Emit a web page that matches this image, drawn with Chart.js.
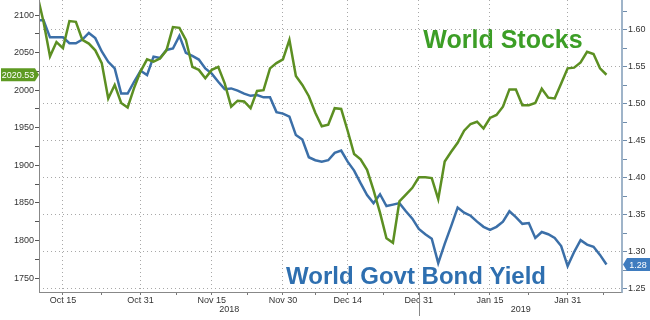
<!DOCTYPE html>
<html>
<head>
<meta charset="utf-8">
<script src="https://cdn.jsdelivr.net/npm/chart.js@4.4.0/dist/chart.umd.min.js"></script>
<style>
  html, body { margin: 0; padding: 0; background: #fff; }
</style>
</head>
<body>
<canvas id="myChart" width="650" height="320"></canvas>
<script>
// trading days shown on the chart
const dates = [
  "Oct 9","Oct 10","Oct 11","Oct 12","Oct 15","Oct 16","Oct 17","Oct 18","Oct 19","Oct 22","Oct 23","Oct 24","Oct 25","Oct 26","Oct 29","Oct 30","Oct 31",
  "Nov 1","Nov 2","Nov 5","Nov 6","Nov 7","Nov 8","Nov 9","Nov 12","Nov 13","Nov 14","Nov 15","Nov 16","Nov 19","Nov 20","Nov 21","Nov 22","Nov 23","Nov 26","Nov 27","Nov 28","Nov 29","Nov 30",
  "Dec 3","Dec 4","Dec 5","Dec 6","Dec 7","Dec 10","Dec 11","Dec 12","Dec 13","Dec 14","Dec 17","Dec 18","Dec 19","Dec 20","Dec 21","Dec 24","Dec 25","Dec 26","Dec 27","Dec 28","Dec 31",
  "Jan 1","Jan 2","Jan 3","Jan 4","Jan 7","Jan 8","Jan 9","Jan 10","Jan 11","Jan 14","Jan 15","Jan 16","Jan 17","Jan 18","Jan 21","Jan 22","Jan 23","Jan 24","Jan 25","Jan 28","Jan 29","Jan 30","Jan 31",
  "Feb 1","Feb 4","Feb 5","Feb 6","Feb 7","Feb 8"
];

// World Stocks (left axis)
const stocks = [
  2128, 2091, 2045, 2064, 2056, 2092, 2091, 2067, 2062, 2053, 2036, 1989, 2007, 1983, 1977, 2003, 2025,
  2041, 2038, 2042, 2053, 2084, 2083, 2067, 2031, 2027, 2016, 2027, 2031, 2009, 1978, 1986, 1985, 1976, 1999, 2000, 2029, 2036, 2041,
  2067, 2019, 2007, 1992, 1970, 1952, 1954, 1976, 1975, 1946, 1915, 1908, 1894, 1867, 1837, 1803, 1797, 1852, 1861, 1870, 1884,
  1884, 1883, 1855, 1905, 1918, 1930, 1946, 1955, 1958, 1949, 1963, 1967, 1978, 2001, 2001, 1980, 1980, 1983, 2002, 1990, 1989, 2009, 2029,
  2030, 2037, 2051, 2048, 2029, 2020.53
];

// World Govt Bond Yield (right axis)
const bondYield = [
  1.613, 1.613, 1.590, 1.590, 1.590, 1.582, 1.582, 1.587, 1.596, 1.589, 1.571, 1.557, 1.548, 1.514, 1.514, 1.530, 1.545,
  1.539, 1.564, 1.562, 1.573, 1.575, 1.592, 1.569, 1.565, 1.560, 1.548, 1.541, 1.530, 1.520, 1.521, 1.518, 1.514, 1.511, 1.512, 1.509, 1.509, 1.489, 1.487,
  1.483, 1.458, 1.452, 1.428, 1.424, 1.422, 1.424, 1.434, 1.437, 1.422, 1.410, 1.393, 1.377, 1.366, 1.378, 1.362, 1.364, 1.366, 1.355, 1.345, 1.331,
  1.324, 1.318, 1.285, 1.311, 1.335, 1.360, 1.353, 1.349, 1.341, 1.334, 1.330, 1.334, 1.341, 1.355, 1.347, 1.338, 1.339, 1.319, 1.327, 1.324, 1.319, 1.308, 1.281,
  1.300, 1.316, 1.310, 1.307, 1.296, 1.283
];

const xTickLabels = ["Oct 15", "Oct 31", "Nov 15", "Nov 30", "Dec 14", "Dec 31", "Jan 15", "Jan 31"];
const leftTicks = [1750, 1800, 1850, 1900, 1950, 2000, 2050, 2100];
const rightTicks = [1.25, 1.30, 1.35, 1.40, 1.45, 1.50, 1.55, 1.60];
const years = ["2018", "2019"];
const yearStart = "Dec 31";

const GREEN = "#5c8f22";
const BLUE = "#3b6fa8";
const GRID = "#a8a8a8";

function withMinors(major, step, lo, hi) {
  var out = [];
  major.forEach(function (v) { out.push({ value: v, major: true }); });
  for (var i = 0; i < major.length; i++) {
    var m = (i < major.length - 1) ? (major[i] + major[i + 1]) / 2 : major[i] + step / 2;
    if (m >= lo && m <= hi) out.push({ value: m, major: false });
  }
  return out.sort(function (a, b) { return a.value - b.value; });
}

const xMajor = xTickLabels.map(function (l) { return dates.indexOf(l); });

function noPad(scale) {
  scale.paddingTop = 0; scale.paddingBottom = 0;
  scale.paddingLeft = 0; scale.paddingRight = 0;
}

function solidLine(ctx, x1, y1, x2, y2, color) {
  ctx.strokeStyle = color;
  ctx.lineWidth = 1;
  ctx.setLineDash([]);
  ctx.beginPath();
  ctx.moveTo(x1, y1);
  ctx.lineTo(x2, y2);
  ctx.stroke();
}

const overlay = {
  id: "overlay",
  beforeDraw(chart) {
    const ctx = chart.ctx;
    ctx.save();
    ctx.textAlign = "center";
    ctx.textBaseline = "alphabetic";
    ctx.font = "bold 25px 'Liberation Sans', Arial, sans-serif";
    ctx.fillStyle = "#3c9e26";
    ctx.fillText("World Stocks", 503, 48);
    ctx.font = "bold 24px 'Liberation Sans', Arial, sans-serif";
    ctx.fillStyle = "#2e6fb0";
    ctx.fillText("World Govt Bond Yield", 416, 284);
    ctx.restore();
  },
  afterDraw(chart) {
    const ctx = chart.ctx, a = chart.chartArea;
    const x = chart.scales.x, yL = chart.scales.yL, yR = chart.scales.yR;
    ctx.save();
    // solid axis lines (the dash option only should hit the grid)
    solidLine(ctx, a.left + 0.5, a.top, a.left + 0.5, a.bottom + 0.5, "#888");
    solidLine(ctx, a.left, a.bottom + 0.5, a.right, a.bottom + 0.5, "#888");
    solidLine(ctx, a.right - 0.5, a.top, a.right - 0.5, a.bottom + 0.5, "#9fb4c9");

    // year separator + year labels
    const sep = Math.round(x.getPixelForValue(dates.indexOf(yearStart))) + 0.5;
    solidLine(ctx, sep, a.bottom, sep, a.bottom + 24, "#888");
    ctx.font = "9px 'Liberation Sans', Arial, sans-serif";
    ctx.fillStyle = "#333";
    ctx.textAlign = "center";
    ctx.textBaseline = "middle";
    ctx.fillText(years[0], (a.left + sep) / 2, 310);
    ctx.fillText(years[1], (sep + a.right) / 2, 310);

    // last value tags
    const sv = stocks[stocks.length - 1];
    let yy = yL.getPixelForValue(sv);
    ctx.fillStyle = "#5e9a22";
    ctx.beginPath();
    ctx.moveTo(1, yy - 6.5);
    ctx.lineTo(35, yy - 6.5);
    ctx.lineTo(39, yy);
    ctx.lineTo(35, yy + 6.5);
    ctx.lineTo(1, yy + 6.5);
    ctx.closePath();
    ctx.fill();
    ctx.fillStyle = "#fff";
    ctx.fillText(sv.toFixed(2), 18, yy + 0.5);

    const bv = bondYield[bondYield.length - 1];
    yy = yR.getPixelForValue(bv);
    ctx.fillStyle = "#3f7cbf";
    ctx.beginPath();
    ctx.moveTo(623, yy);
    ctx.lineTo(627, yy - 6.5);
    ctx.lineTo(650, yy - 6.5);
    ctx.lineTo(650, yy + 6.5);
    ctx.lineTo(627, yy + 6.5);
    ctx.closePath();
    ctx.fill();
    ctx.fillStyle = "#fff";
    ctx.fillText(bv.toFixed(2), 638, yy + 0.5);
    ctx.restore();
  }
};

const tickFont = { family: "'Liberation Sans', Arial, sans-serif", size: 9 };

new Chart(document.getElementById("myChart").getContext("2d"), {
  type: "line",
  data: {
    datasets: [
      {
        label: "World Stocks",
        data: stocks.map(function (v, i) { return { x: i, y: v }; }),
        yAxisID: "yL",
        borderColor: GREEN,
        borderWidth: 2.5,
        pointRadius: 0,
        tension: 0
      },
      {
        label: "World Govt Bond Yield",
        data: bondYield.map(function (v, i) { return { x: i, y: v }; }),
        yAxisID: "yR",
        borderColor: BLUE,
        borderWidth: 2.5,
        pointRadius: 0,
        tension: 0
      }
    ]
  },
  options: {
    responsive: false,
    animation: false,
    devicePixelRatio: 1,
    layout: { padding: 0 },
    plugins: { legend: { display: false }, tooltip: { enabled: false } },
    scales: {
      x: {
        type: "linear",
        position: "bottom",
        min: 0.3,
        max: 90.4,
        afterBuildTicks: function (s) { s.ticks = withMinors(xMajor, 11, s.min, s.max); },
        afterFit: function (s) { s.height = 28; noPad(s); },
        grid: {
          color: function (c) { return c.tick && c.tick.major ? GRID : "rgba(0,0,0,0)"; },
          tickColor: "#777",
          tickLength: 3
        },
        border: { color: "#888", dash: [1, 3] },
        ticks: {
          font: tickFont,
          color: "#333",
          padding: 0,
          autoSkip: false,
          maxRotation: 0,
          callback: function (v, i, t) { return t[i].major ? dates[v] : ""; }
        }
      },
      yL: {
        type: "linear",
        position: "left",
        min: 1731.4,
        max: 2120,
        afterBuildTicks: function (s) { s.ticks = withMinors(leftTicks, 50, s.min, s.max); },
        afterFit: function (s) { s.width = 39; noPad(s); },
        grid: { drawOnChartArea: false, tickColor: "#555", tickLength: 4 },
        border: { color: "#888" },
        ticks: {
          font: tickFont,
          color: "#333",
          padding: 1,
          callback: function (v, i, t) { return t[i].major ? String(v) : ""; }
        }
      },
      yR: {
        type: "linear",
        position: "right",
        min: 1.2459,
        max: 1.6405,
        afterBuildTicks: function (s) { s.ticks = withMinors(rightTicks, 0.05, s.min, s.max); },
        afterFit: function (s) { s.width = 28; noPad(s); },
        grid: {
          color: function (c) { return c.tick && c.tick.major ? GRID : "rgba(0,0,0,0)"; },
          tickColor: "#6f8cab",
          tickLength: 5
        },
        border: { color: "#9fb4c9", dash: [1, 3] },
        ticks: {
          font: tickFont,
          color: "#333",
          padding: 1,
          callback: function (v, i, t) { return t[i].major ? v.toFixed(2) : ""; }
        }
      }
    }
  },
  plugins: [overlay]
});
</script>
</body>
</html>
